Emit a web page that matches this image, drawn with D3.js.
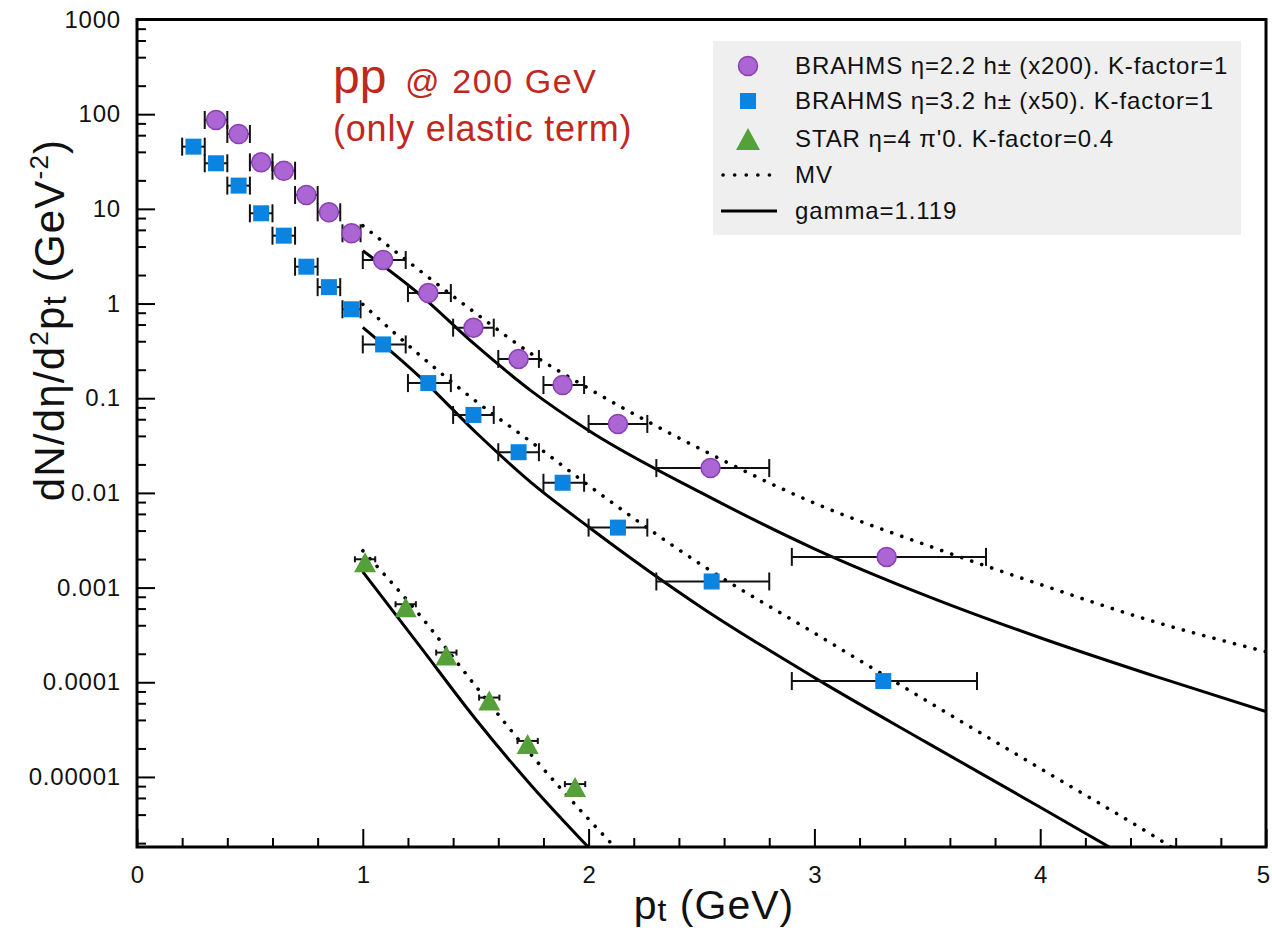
<!DOCTYPE html>
<html>
<head>
<meta charset="utf-8">
<script src="https://cdn.jsdelivr.net/npm/d3@7"></script>
<style>
  body { margin: 0; background: #fff; }
  text { font-family: "Liberation Sans", Arial, Helvetica, sans-serif; }
</style>
</head>
<body>
<div id="chart"></div>
<script>
// ---- data ----
const yTicks = [1000, 100, 10, 1, 0.1, 0.01, 0.001, 0.0001, 0.00001];
const yTickLabels = ["1000", "100", "10", "1", "0.1", "0.01", "0.001", "0.0001", "0.00001"];
const xTicks = [0, 1, 2, 3, 4, 5];

// BRAHMS eta=2.2 (x200)
const circlePt  = [0.35, 0.45, 0.55, 0.65, 0.75, 0.85, 0.95, 1.09, 1.29, 1.49, 1.69, 1.885, 2.13, 2.54, 3.32];
const circleVal = [86.9, 61.8, 31.0, 25.3, 14.0, 9.2, 5.52, 2.88, 1.29, 0.556, 0.26, 0.138, 0.0535, 0.0183, 0.00211];
const circleLo  = [0.30, 0.40, 0.50, 0.60, 0.70, 0.80, 0.91, 1.0, 1.2, 1.4, 1.6, 1.8, 2.0, 2.3, 2.9];
const circleHi  = [0.40, 0.50, 0.60, 0.70, 0.80, 0.90, 0.99, 1.19, 1.39, 1.58, 1.78, 1.98, 2.26, 2.8, 3.76];

// BRAHMS eta=3.2 (x50)
const squarePt  = [0.25, 0.35, 0.45, 0.55, 0.65, 0.75, 0.85, 0.95, 1.09, 1.29, 1.49, 1.69, 1.885, 2.13, 2.545, 3.305];
const squareVal = [45.4, 30.3, 17.6, 8.98, 5.21, 2.45, 1.49, 0.87, 0.37, 0.1445, 0.0666, 0.0269, 0.0128, 0.0043, 0.00116, 0.000103];
const squareLo  = [0.20, 0.30, 0.40, 0.50, 0.60, 0.70, 0.80, 0.91, 1.0, 1.2, 1.4, 1.6, 1.8, 2.0, 2.3, 2.9];
const squareHi  = [0.30, 0.40, 0.50, 0.60, 0.70, 0.80, 0.90, 0.99, 1.19, 1.39, 1.58, 1.78, 1.98, 2.26, 2.8, 3.72];

// STAR eta=4 pi0
const triPt  = [1.01, 1.19, 1.37, 1.56, 1.73, 1.94];
const triVal = [0.00199, 0.000667, 0.000206, 6.89e-5, 2.40e-5, 8.4e-6];
const triLo  = [0.965, 1.145, 1.325, 1.515, 1.685, 1.895];
const triHi  = [1.055, 1.235, 1.415, 1.605, 1.775, 1.985];

// model curves [pt, value]
const mvUpper = [[1.0, 6.64], [1.25, 2.25], [1.5, 0.79], [1.75, 0.291], [2.0, 0.1268], [2.5, 0.0287],
  [3.0, 0.0078], [3.5, 0.00279], [4.0, 0.00108], [4.5, 0.00044], [5.0, 0.00021]];
const gammaUpper = [[1.0, 3.61], [1.25, 1.26], [1.5, 0.363], [1.75, 0.1175], [2.0, 0.0457], [2.5, 0.0100],
  [3.0, 0.00257], [3.5, 0.000813], [4.0, 0.000295], [4.5, 0.0001175], [5.0, 4.9e-5]];
const mvMiddle = [[1.0, 0.982], [1.25, 0.288], [1.5, 0.0933], [1.75, 0.0339], [2.0, 0.0120], [2.5, 0.00174],
  [3.0, 0.000331], [3.5, 6.31e-5], [4.0, 1.23e-5], [4.5, 2.40e-6], [4.7, 1.2e-6]];
const gammaMiddle = [[1.0, 0.561], [1.25, 0.170], [1.5, 0.0437], [1.75, 0.0126], [2.0, 0.00437], [2.5, 0.000617],
  [3.0, 0.000112], [3.5, 2.29e-5], [4.0, 4.79e-6], [4.4, 1.35e-6]];
const mvLower = [[1.0, 0.00245], [1.25, 0.000519], [1.5, 9.08e-5], [1.75, 1.67e-5], [2.0, 3.58e-6], [2.2, 1.12e-6]];
const gammaLower = [[1.0, 0.00147], [1.25, 0.000245], [1.5, 4.07e-5], [1.75, 7.94e-6], [2.0, 1.80e-6], [2.05, 1.35e-6]];

const legendLabels = ["BRAHMS \u03b7=2.2 h\u00b1 (x200). K-factor=1", "BRAHMS \u03b7=3.2 h\u00b1 (x50). K-factor=1",
  "STAR \u03b7=4 \u03c0'0. K-factor=0.4", "MV", "gamma=1.119"];

// ---- layout ----
const margin = { top: 19.5, left: 137 },
      width = 1129,
      height = 827.5;

const svg = d3.select("#chart")
    .append("svg")
    .attr("width", 1272)
    .attr("height", 932);

const g = svg.append("g")
    .attr("transform", `translate(${margin.left},${margin.top})`);

const x = d3.scaleLinear().domain([0, 5]).range([0, width]);
const y = d3.scaleLog().domain([1.82e-6, 1000]).range([height, 0]);

g.append("clipPath").attr("id", "plotclip")
  .append("rect").attr("width", width).attr("height", height);

// minor ticks (2,4,6,8 per decade, every 0.2 in pt)
const yMinor = [];
for (let e = -6; e < 3; e++) [2, 4, 6, 8].forEach(m => {
    const v = m * Math.pow(10, e);
    if (v > 1.82e-6 && v < 1000) yMinor.push(v);
});
const xMinor = d3.range(0, 5.01, 0.2).filter(v => Math.abs(v - Math.round(v)) > 0.01);

g.append("g").attr("class", "axis")
    .call(d3.axisLeft(y).tickValues(yMinor).tickSize(-9).tickFormat(""));
const yAxis = g.append("g").attr("class", "axis")
    .call(d3.axisLeft(y).tickValues(yTicks).tickSize(-18).tickPadding(16)
        .tickFormat((d, i) => yTickLabels[i]));
g.append("g").attr("class", "axis").attr("transform", `translate(0,${height})`)
    .call(d3.axisBottom(x).tickValues(xMinor).tickSize(-9).tickFormat(""));
const xAxis = g.append("g").attr("class", "axis").attr("transform", `translate(0,${height})`)
    .call(d3.axisBottom(x).tickValues(xTicks).tickSize(-18).tickPadding(19).tickFormat(d3.format("d")));

g.selectAll(".axis .domain").remove();
g.selectAll(".axis line").attr("stroke", "#000").attr("stroke-width", 2);
g.selectAll(".axis text").attr("font-size", "24px").attr("fill", "#111")
    .attr("font-family", "'Liberation Sans', Arial, Helvetica, sans-serif");
yAxis.selectAll("text").attr("letter-spacing", "0.8px");
// keep the last pt label inside the window
xAxis.selectAll("text").attr("dx", d => d === 5 ? -3 : 0);

// frame
g.append("rect")
    .attr("width", width).attr("height", height)
    .attr("fill", "none").attr("stroke", "#000").attr("stroke-width", 3);

// curves
const line = d3.line()
    .x(d => x(d[0]))
    .y(d => y(d[1]))
    .curve(d3.curveMonotoneX);

const curves = g.append("g").attr("clip-path", "url(#plotclip)");
[mvUpper, mvMiddle, mvLower].forEach(c => {
    curves.append("path").attr("d", line(c))
        .attr("fill", "none").attr("stroke", "#000").attr("stroke-width", 3.6)
        .attr("stroke-linecap", "round").attr("stroke-dasharray", "0.1 10.5");
});
[gammaUpper, gammaMiddle, gammaLower].forEach(c => {
    curves.append("path").attr("d", line(c))
        .attr("fill", "none").attr("stroke", "#000").attr("stroke-width", 3);
});

// error bars
function errorBars(pt, val, lo, hi, cap) {
    const eb = g.append("g").attr("stroke", "#111").attr("stroke-width", 2);
    pt.forEach((p, i) => {
        const yy = y(val[i]);
        eb.append("line").attr("x1", x(lo[i])).attr("x2", x(hi[i])).attr("y1", yy).attr("y2", yy);
        eb.append("line").attr("x1", x(lo[i])).attr("x2", x(lo[i])).attr("y1", yy - cap).attr("y2", yy + cap);
        eb.append("line").attr("x1", x(hi[i])).attr("x2", x(hi[i])).attr("y1", yy - cap).attr("y2", yy + cap);
    });
}
errorBars(circlePt, circleVal, circleLo, circleHi, 9);
errorBars(squarePt, squareVal, squareLo, squareHi, 9);
errorBars(triPt, triVal, triLo, triHi, 3);

// markers
const purple = "#ab66d4", purpleEdge = "#8a3fb5", blue = "#0a84e0", green = "#55a038";

g.selectAll(".circ").data(circlePt).enter().append("circle")
    .attr("cx", d => x(d)).attr("cy", (d, i) => y(circleVal[i])).attr("r", 9.5)
    .attr("fill", purple).attr("stroke", purpleEdge).attr("stroke-width", 1.5);

g.selectAll(".sq").data(squarePt).enter().append("rect")
    .attr("x", d => x(d) - 8).attr("y", (d, i) => y(squareVal[i]) - 8)
    .attr("width", 16).attr("height", 16).attr("fill", blue);

const triPath = "M0,-7L11,13L-11,13Z";
g.selectAll(".tri").data(triPt).enter().append("path")
    .attr("d", triPath)
    .attr("transform", (d, i) => `translate(${x(d)},${y(triVal[i])})`)
    .attr("fill", green);

// legend
const leg = svg.append("g").attr("transform", "translate(713,41)");
leg.append("rect").attr("width", 528).attr("height", 194).attr("fill", "#efefef");
const rowY = [25, 60, 98, 134, 170];
leg.append("circle").attr("cx", 35).attr("cy", rowY[0]).attr("r", 9.5)
    .attr("fill", purple).attr("stroke", purpleEdge).attr("stroke-width", 1.5);
leg.append("rect").attr("x", 27).attr("y", rowY[1] - 8).attr("width", 16).attr("height", 16).attr("fill", blue);
leg.append("path").attr("d", "M0,-11L12,11L-12,11Z").attr("transform", `translate(35,${rowY[2]})`).attr("fill", green);
leg.append("line").attr("x1", 10).attr("x2", 58).attr("y1", rowY[3]).attr("y2", rowY[3])
    .attr("stroke", "#000").attr("stroke-width", 3.6).attr("stroke-linecap", "round").attr("stroke-dasharray", "0.1 11.5");
leg.append("line").attr("x1", 8).attr("x2", 64).attr("y1", rowY[4]).attr("y2", rowY[4])
    .attr("stroke", "#000").attr("stroke-width", 3);
legendLabels.forEach((t, i) => {
    leg.append("text").attr("x", 82).attr("y", rowY[i] + 8)
        .attr("font-size", "24px").attr("letter-spacing", "0.9px").attr("fill", "#111").text(t);
});

// title annotation
const red = "#c0281c";
const t1 = svg.append("text").attr("x", 333).attr("y", 93).attr("fill", red);
t1.append("tspan").attr("font-size", "48px").text("pp");
t1.append("tspan").attr("x", 405).attr("font-size", "34px").attr("letter-spacing", "1.6px").text("@ 200 GeV");
svg.append("text").attr("x", 333).attr("y", 141).attr("fill", red)
    .attr("font-size", "36px").attr("letter-spacing", "0.8px").text("(only elastic term)");

// axis titles
const xt = svg.append("text").attr("x", 714).attr("y", 919).attr("text-anchor", "middle")
    .attr("font-size", "41px").attr("letter-spacing", "1px").attr("fill", "#111");
xt.append("tspan").text("p");
xt.append("tspan").attr("font-size", "32px").attr("dy", 2).text("t");
xt.append("tspan").attr("dy", -2).text(" (GeV)");

const yt = svg.append("text").attr("transform", "translate(64,320) rotate(-90)")
    .attr("text-anchor", "middle").attr("font-size", "42px").attr("letter-spacing", "1.2px").attr("fill", "#111");
yt.append("tspan").text("dN/d\u03b7/d");
yt.append("tspan").attr("font-size", "26px").attr("dy", -16).text("2");
yt.append("tspan").attr("dy", 16).text("p");
yt.append("tspan").attr("font-size", "33px").attr("dy", 2).text("t");
yt.append("tspan").attr("dy", -2).text(" (GeV");
yt.append("tspan").attr("font-size", "26px").attr("dy", -16).text("-2");
yt.append("tspan").attr("dy", 16).text(")");
</script>
</body>
</html>
